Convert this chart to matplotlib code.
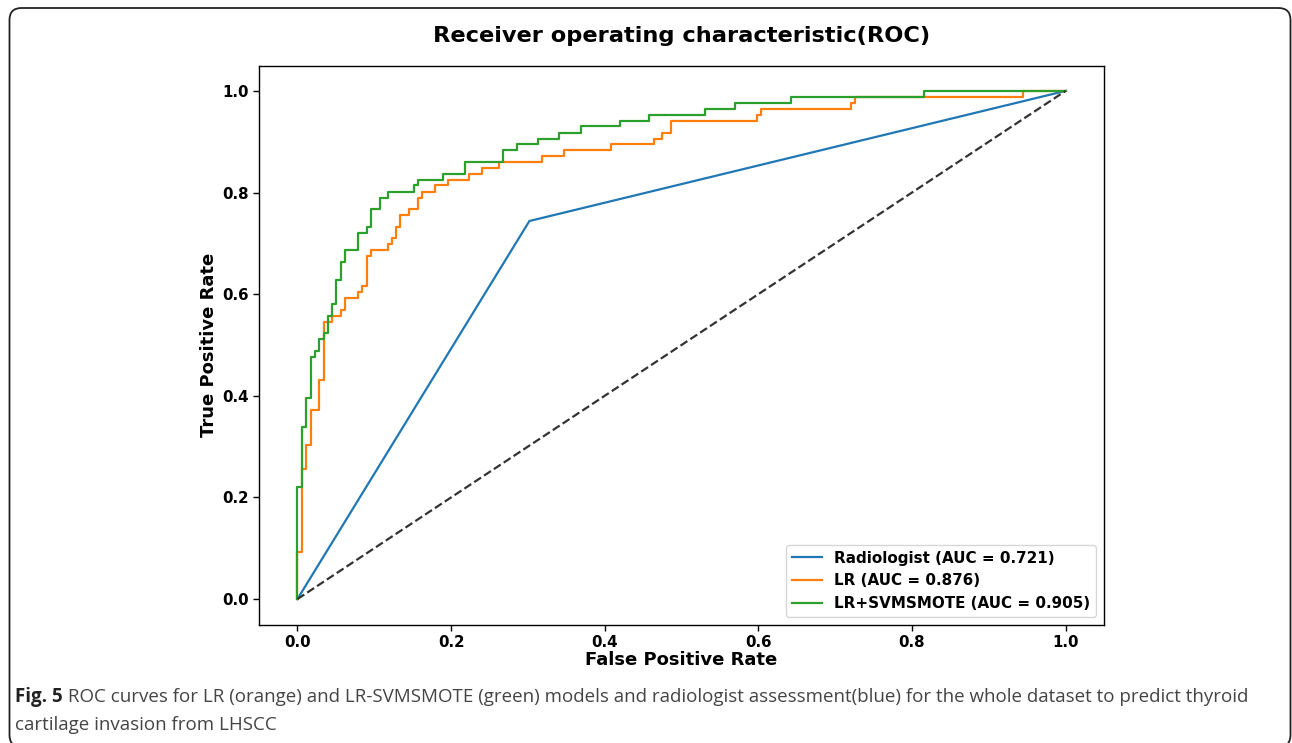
import numpy as np
import matplotlib
matplotlib.use("Agg")
import matplotlib.pyplot as plt
from matplotlib.patches import FancyBboxPatch
from matplotlib.transforms import IdentityTransform

plt.rcParams["font.family"] = ["DejaVu Sans"]

# ROC data (vertical jump positions and TPR after each jump)
radiologist_fpr = [0.0, 0.302, 1.0]
radiologist_tpr = [0.0, 0.744, 1.0]

lr_fpr = [0.0, 0.0, 0.006, 0.0117, 0.0178, 0.0286, 0.034, 0.0455, 0.0563, 0.062,
          0.079, 0.0845, 0.090, 0.0958, 0.118, 0.123, 0.1285, 0.134, 0.1455, 0.157,
          0.1625, 0.179, 0.196, 0.224, 0.2406, 0.263, 0.3186, 0.347, 0.408, 0.464,
          0.4746, 0.486, 0.598, 0.603, 0.720, 0.7265, 0.9445, 1.0]
lr_tpr = [0.0, 0.0935, 0.256, 0.3026, 0.3725, 0.431, 0.546, 0.557, 0.569, 0.593,
          0.605, 0.616, 0.6745, 0.686, 0.698, 0.710, 0.733, 0.756, 0.767, 0.790,
          0.802, 0.814, 0.825, 0.837, 0.848, 0.860, 0.871, 0.883, 0.895, 0.906,
          0.918, 0.941, 0.953, 0.964, 0.976, 0.988, 1.0, 1.0]

svm_fpr = [0.0, 0.0, 0.006, 0.0117, 0.0178, 0.023, 0.0286, 0.034, 0.040, 0.0455,
           0.0507, 0.0563, 0.062, 0.079, 0.090, 0.0958, 0.107, 0.118, 0.152, 0.157,
           0.190, 0.2185, 0.268, 0.286, 0.313, 0.341, 0.369, 0.420, 0.458, 0.531,
           0.570, 0.642, 0.816, 1.0]
svm_tpr = [0.0, 0.221, 0.339, 0.395, 0.477, 0.488, 0.511, 0.523, 0.557, 0.580,
           0.627, 0.663, 0.686, 0.721, 0.732, 0.767, 0.790, 0.801, 0.814, 0.825,
           0.837, 0.860, 0.883, 0.895, 0.906, 0.918, 0.930, 0.941, 0.953, 0.965,
           0.976, 0.988, 1.0, 1.0]

labels = ["Radiologist (AUC = 0.721)", "LR (AUC = 0.876)", "LR+SVMSMOTE (AUC = 0.905)"]
title = "Receiver operating characteristic(ROC)"
caption_bold = "Fig. 5"
caption_line1 = (" ROC curves for LR (orange) and LR-SVMSMOTE (green) models and "
                 "radiologist assessment(blue) for the whole dataset to predict thyroid")
caption_line2 = "cartilage invasion from LHSCC"

W, H = 1292, 743
fig = plt.figure(figsize=(W / 100, H / 100), dpi=100)
ax = fig.add_axes([259 / W, 1 - 624.5 / H, (1104 - 259) / W, (624.5 - 65.5) / H])

ax.plot(radiologist_fpr, radiologist_tpr, color="#1f77b4", lw=1.6, label=labels[0])
ax.step(lr_fpr, lr_tpr, where="post", color="#ff7f0e", lw=1.6, label=labels[1])
ax.step(svm_fpr, svm_tpr, where="post", color="#2ca02c", lw=1.6, label=labels[2])
ax.plot([0, 1], [0, 1], color="#333333", lw=1.6, linestyle="--")

ax.set_xlim(-0.05, 1.05)
ax.set_ylim(-0.05, 1.05)
ax.set_xticks([0, 0.2, 0.4, 0.6, 0.8, 1.0])
ax.set_yticks([0, 0.2, 0.4, 0.6, 0.8, 1.0])
ax.tick_params(labelsize=10.8, width=1.0, length=4)
for lab in ax.get_xticklabels() + ax.get_yticklabels():
    lab.set_fontweight("bold")
for sp in ax.spines.values():
    sp.set_linewidth(1.0)

ax.set_xlabel("False Positive Rate", fontsize=13, fontweight="bold", labelpad=1)
ax.set_ylabel("True Positive Rate", fontsize=13, fontweight="bold", labelpad=3)
ax.set_title(title, fontsize=16.2, fontweight="bold", pad=17)
ax.legend(loc="lower right", prop={"weight": "bold", "size": 10.9})

# caption below the chart
cap_font = ["Open Sans", "DejaVu Sans"]
cap_size = 13.5
base1 = 1 - 702 / H
base2 = 1 - 730 / H
t1 = fig.text(15 / W, base1, caption_bold, fontsize=cap_size, family=cap_font,
              fontweight="bold", color="#222222", va="baseline")
fig.canvas.draw()
bb = t1.get_window_extent()
fig.text(bb.x1 / W, base1, caption_line1, fontsize=cap_size, family=cap_font,
         color="#444444", va="baseline")
fig.text(15 / W, base2, caption_line2, fontsize=cap_size, family=cap_font,
         color="#444444", va="baseline")

# rounded border around the whole figure panel
border = FancyBboxPatch((9.5, -4), 1281, 739, boxstyle="round,pad=0,rounding_size=12",
                        transform=IdentityTransform(), fill=False, edgecolor="#222222",
                        lw=1.3, clip_on=False)
fig.patches.append(border)

fig.savefig("out.png", dpi=100)
